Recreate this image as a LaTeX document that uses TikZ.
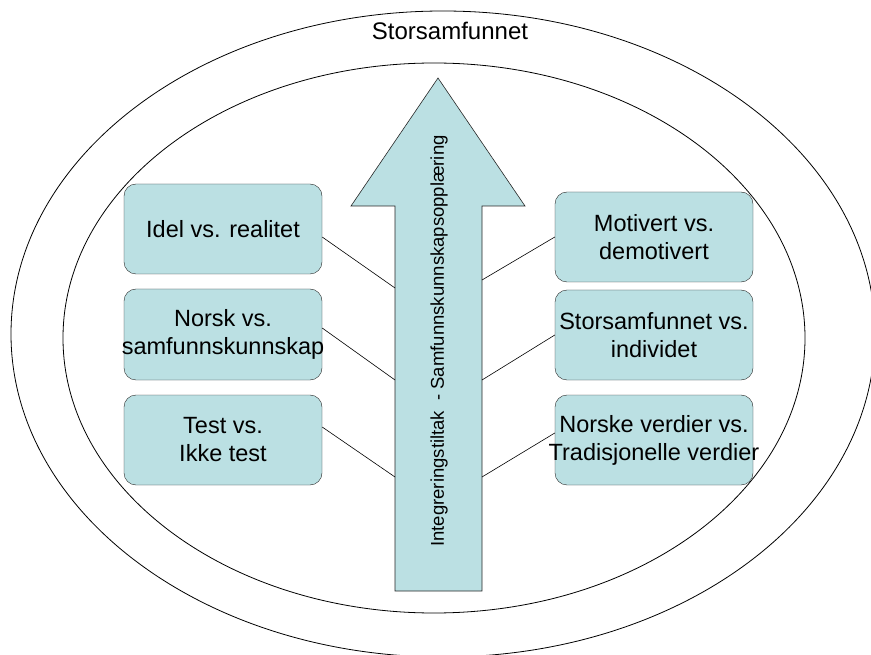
\documentclass[tikz,border=0pt]{standalone}
\usepackage{fontspec}
\setmainfont{Liberation Sans}
\definecolor{boxfill}{RGB}{187,224,227}
\newcommand{\ctrline}[1]{\makebox[0pt]{#1}}
\begin{document}
\begin{tikzpicture}[x=1pt,y=-1pt,
  box/.style={draw=black!85, fill=boxfill, rounded corners=12pt,
    minimum width=198pt, minimum height=90pt, inner sep=0pt, align=center,
    font=\fontsize{23.5}{28}\selectfont},
  link/.style={draw=black, line width=0.6pt},
  ring/.style={draw=black, line width=0.8pt}]
\useasboundingbox (0,0) rectangle (871,655);

% ellipses
\draw[ring] (443,334) ellipse [x radius=432pt, y radius=323pt];
\draw[ring] (434,338) ellipse [x radius=371pt, y radius=275pt];
\node[font=\fontsize{24}{28}\selectfont] (title) at (450,31) {Storsamfunnet};

% big arrow
\draw[draw=black!85, fill=boxfill, line width=0.6pt]
  (438,78) -- (525,206) -- (482,206) -- (482,591) -- (395,591) -- (395,206) -- (351,206) -- cycle;
\node[rotate=90, font=\fontsize{18.5}{22}\selectfont] (arrowtext) at (439,341)
  {Integreringstiltak\ \ - Samfunnskunnskapsopplæring};

% attachment points on the arrow shaft
\coordinate (aL1) at (395,288);
\coordinate (aL2) at (395,380);
\coordinate (aL3) at (395,477);
\coordinate (aR1) at (482,280);
\coordinate (aR2) at (482,380);
\coordinate (aR3) at (482,477);

% boxes
\node[box] (L1) at (223,229) {\ctrline{Idel vs. realitet}};
\node[box, minimum height=91pt] (L2) at (223,334.5) {\ctrline{Norsk vs.}\\\ctrline{samfunnskunnskap}};
\node[box] (L3) at (223,440) {\ctrline{Test vs.}\\\ctrline{Ikke test}};
\node[box] (R1) at (654,237) {\ctrline{Motivert vs.}\\\ctrline{demotivert}};
\node[box] (R2) at (654,335) {\ctrline{Storsamfunnet vs.}\\\ctrline{individet}};
\node[box] (R3) at (654,440) {\ctrline{Norske verdier vs.}\\\ctrline{Tradisjonelle verdier}};

% connectors
\draw[link] ([yshift=-8pt]L1.east) -- (aL1);
\draw[link] ([yshift=6.5pt]L2.east) -- (aL2);
\draw[link] ([yshift=13pt]L3.east) -- (aL3);
\draw[link] (R1.west) -- (aR1);
\draw[link] (R2.west) -- (aR2);
\draw[link] ([yshift=7pt]R3.west) -- (aR3);
\end{tikzpicture}
\end{document}
